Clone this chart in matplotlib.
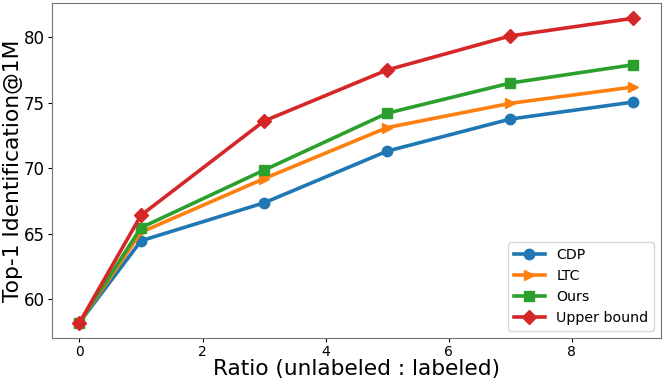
import matplotlib
matplotlib.use("Agg")
import matplotlib.pyplot as plt

ratios = [0, 1, 3, 5, 7, 9]
cdp = [58.2, 64.45, 67.35, 71.3, 73.75, 75.05]
ltc = [58.2, 65.1, 69.2, 73.1, 74.95, 76.2]
ours = [58.2, 65.45, 69.85, 74.2, 76.5, 77.9]
upper = [58.2, 66.4, 73.6, 77.5, 80.1, 81.45]

series = [
    ("CDP", cdp, "#1f77b4", "o"),
    ("LTC", ltc, "#ff7f0e", ">"),
    ("Ours", ours, "#2ca02c", "s"),
    ("Upper bound", upper, "#d62728", "D"),
]

fig, ax = plt.subplots(figsize=(6.64, 3.8), dpi=100)
fig.subplots_adjust(left=0.078, right=0.9955, top=0.992, bottom=0.111)

for name, vals, color, marker in series:
    ax.plot(ratios, vals, color=color, marker=marker, linewidth=2.6, markersize=7.5, label=name)

ax.set_xlabel("Ratio (unlabeled : labeled)", fontsize=15.6, labelpad=0)
ax.set_ylabel("Top-1 Identification@1M", fontsize=15.7, labelpad=0.5)
ax.set_yticks([60, 65, 70, 75, 80])
ax.tick_params(axis="x", labelsize=10, pad=2.5, length=2.8)
ax.tick_params(axis="y", labelsize=12, pad=2.2, length=2.8)
for s in ax.spines.values():
    s.set_color("0.45")
ax.legend(loc="lower right", fontsize=10.2, handlelength=2.2)

fig.savefig("out.png", dpi=100)
